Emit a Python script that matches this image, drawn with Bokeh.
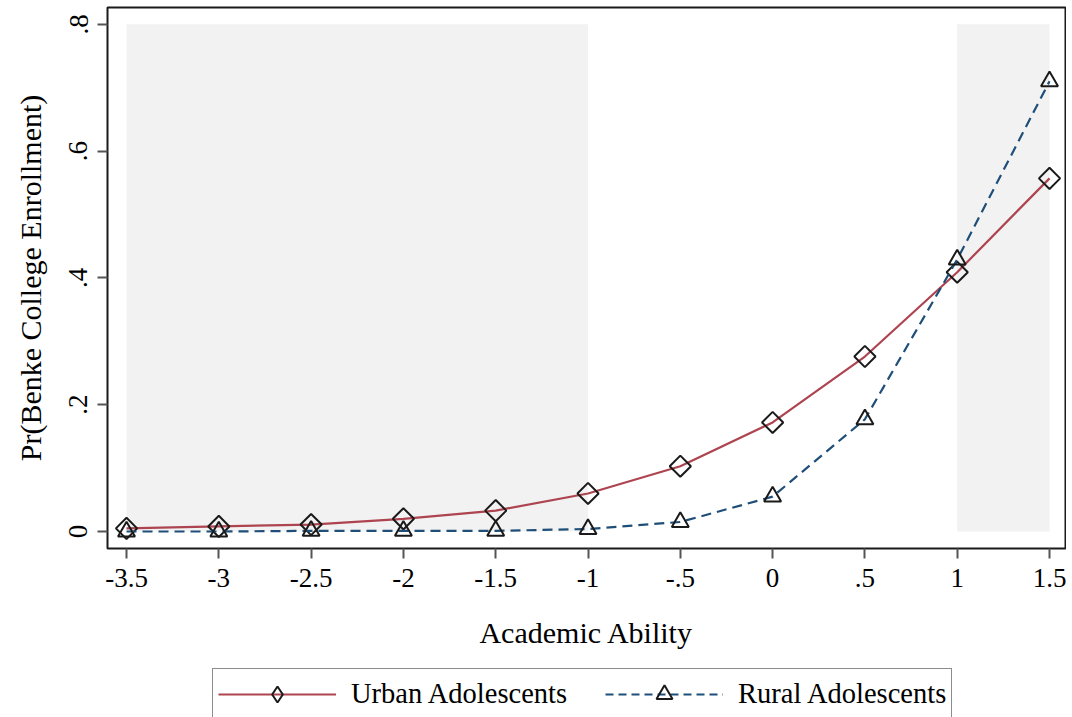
import numpy as np
from bokeh.plotting import figure
from bokeh.layouts import column
from bokeh.models import Range1d, FixedTicker, Legend, LegendItem
from bokeh.embed import file_html
from bokeh.resources import INLINE

# ---- data ----
ability = [-3.5, -3.0, -2.5, -2.0, -1.5, -1.0, -0.5, 0.0, 0.5, 1.0, 1.5]
urban = [0.005, 0.008, 0.011, 0.020, 0.033, 0.060, 0.103, 0.172, 0.276, 0.409, 0.557]
rural = [0.000, 0.000, 0.001, 0.001, 0.001, 0.004, 0.015, 0.055, 0.177, 0.429, 0.710]

shade_left = [-3.5, 1.0]
shade_right = [-1.0, 1.5]
shade_bottom = [0.0, 0.0]
shade_top = [0.8, 0.8]

x_ticks = [-3.5, -3.0, -2.5, -2.0, -1.5, -1.0, -0.5, 0.0, 0.5, 1.0, 1.5]
x_labels = ["-3.5", "-3", "-2.5", "-2", "-1.5", "-1", "-.5", "0", ".5", "1", "1.5"]
y_ticks = [0.0, 0.2, 0.4, 0.6, 0.8]
y_labels = ["0", ".2", ".4", ".6", ".8"]

series_names = ["Urban Adolescents", "Rural Adolescents"]

FONT = "Liberation Serif"
RED = "#ad4450"
NAVY = "#1f4e79"
INK = "#1a1a1a"

# ---------------- main plot ----------------
p = figure(width=1066, height=661, output_backend="svg", toolbar_location=None,
           x_range=Range1d(-3.603, 1.5866), y_range=Range1d(-0.0268, 0.8265),
           min_border_left=107, min_border_right=1, min_border_top=7, min_border_bottom=113)

p.background_fill_color = "white"
p.border_fill_color = "white"
p.outline_line_color = INK
p.outline_line_width = 2
p.grid.visible = False

p.quad(left=shade_left, right=shade_right, bottom=shade_bottom, top=shade_top,
       fill_color="#f2f2f2", line_color=None)

p.line(ability, urban, line_color=RED, line_width=2.2)
p.scatter(ability, urban, marker="square", angle=np.pi / 4, size=15,
          fill_alpha=0, line_color=INK, line_width=2)
p.line(ability, rural, line_color=NAVY, line_width=2.2, line_dash="10 6")
p.scatter(ability, rural, marker="triangle", size=17,
          fill_alpha=0, line_color=INK, line_width=2)

for ax in (p.xaxis[0], p.yaxis[0]):
    ax.axis_line_color = None
    ax.major_tick_line_color = "#555555"
    ax.major_tick_line_width = 2
    ax.major_tick_out = 10
    ax.major_tick_in = 0
    ax.minor_tick_line_color = None
    ax.major_label_text_font = FONT
    ax.major_label_text_font_size = "27px"
    ax.major_label_text_color = "black"
    ax.axis_label_text_font = FONT
    ax.axis_label_text_font_size = "30px"
    ax.axis_label_text_font_style = "normal"
    ax.axis_label_text_color = "black"

p.xaxis.ticker = FixedTicker(ticks=x_ticks)
p.xaxis.major_label_overrides = dict(zip(x_ticks, x_labels))
p.xaxis.axis_label = "Academic Ability"
p.xaxis.major_label_standoff = 10
p.xaxis.axis_label_standoff = 26

p.yaxis.ticker = FixedTicker(ticks=y_ticks)
p.yaxis.major_label_overrides = dict(zip(y_ticks, y_labels))
p.yaxis.major_label_orientation = "vertical"
p.yaxis.axis_label = "Pr(Benke College Enrollment)"
p.yaxis.major_label_standoff = 10
p.yaxis.axis_label_standoff = 20

# ---------------- legend strip ----------------
lg = figure(width=1066, height=56, output_backend="svg", toolbar_location=None,
            x_range=Range1d(10, 11), y_range=Range1d(10, 11),
            x_axis_type=None, y_axis_type=None,
            min_border_left=0, min_border_right=0, min_border_top=0, min_border_bottom=0)
lg.outline_line_color = None
lg.grid.visible = False

k_ul = lg.line(ability, urban, line_color=RED, line_width=2.2)
k_us = lg.scatter(ability, urban, marker="diamond", fill_alpha=0, line_color=INK, line_width=2)
k_rl = lg.line(ability, rural, line_color=NAVY, line_width=2.2, line_dash="8 5")
k_rs = lg.scatter(ability, rural, marker="triangle", fill_alpha=0, line_color=INK, line_width=2)

legend = Legend(items=[LegendItem(label=series_names[0], renderers=[k_ul, k_us]),
                       LegendItem(label=series_names[1], renderers=[k_rl, k_rs])],
                location=(105, -3), orientation="horizontal",
                glyph_width=118, glyph_height=40, label_standoff=15, spacing=38,
                padding=5, margin=0,
                label_text_font=FONT, label_text_font_size="28.5px",
                label_text_color="black",
                border_line_color=INK, border_line_width=1.5,
                background_fill_color="white", background_fill_alpha=1)
lg.add_layout(legend, "center")

layout = column(p, lg, spacing=0)
open("out.html", "w").write(file_html(layout, INLINE))
